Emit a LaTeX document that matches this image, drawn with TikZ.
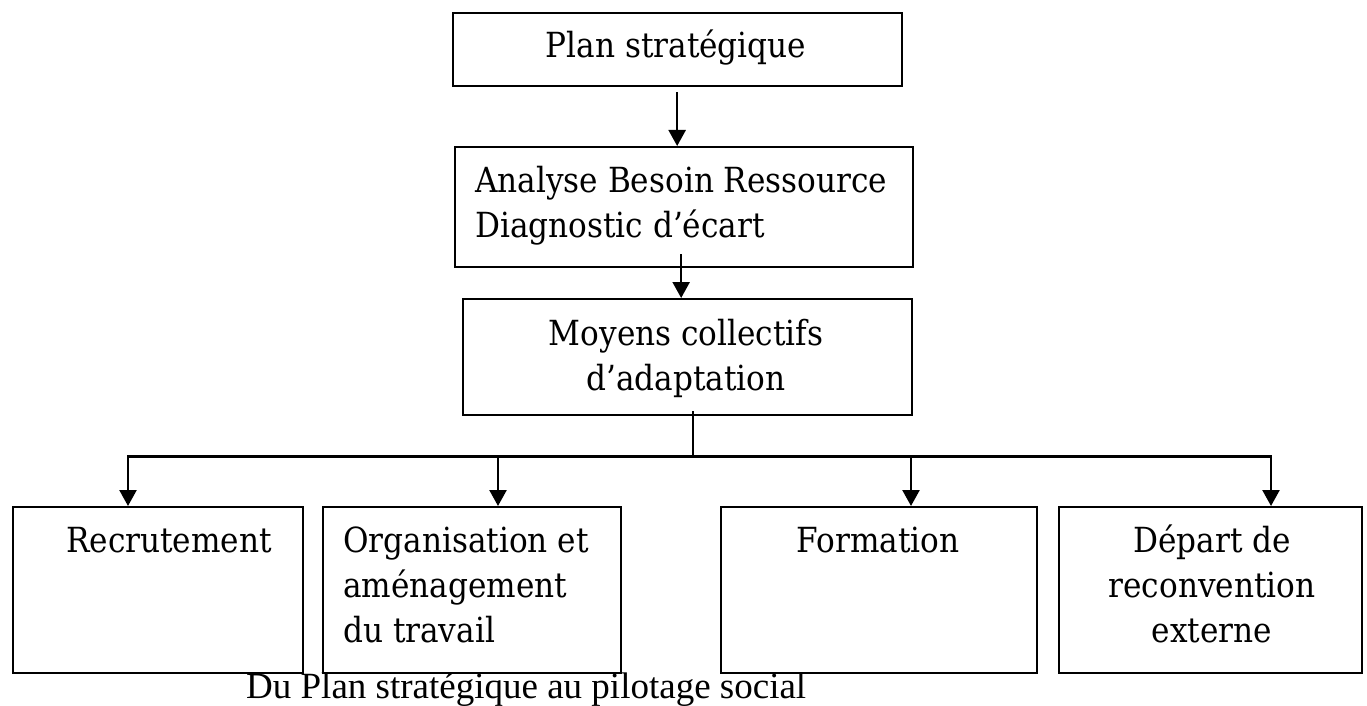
\documentclass[tikz,border=0pt]{standalone}
\usepackage{fontspec}
\setmainfont{Liberation Serif}
\newfontfamily\boxfont{DejaVu Serif Condensed}
\usetikzlibrary{arrows.meta,calc}
% multi-line text whose baseline is that of its first line
\newcommand\stacklines[2]{\begin{tabular}[t]{@{}#1@{}}#2\end{tabular}}
\begin{document}
\begin{tikzpicture}[x=1pt,y=-1pt,
  box/.style={draw, line width=2.3pt, inner sep=0pt, anchor=north west},
  txt/.style={inner sep=0pt, font=\boxfont\fontsize{34.6}{45}\selectfont},
  arr/.style={line width=2.4pt, -{Triangle[width=17pt,length=16pt]}},
  link/.style={line width=2.4pt}]
\useasboundingbox (0,0) rectangle (1367,706);

% boxes
\node[box, minimum width=449pt, minimum height=73pt]  (plan)    at (452,12)  {};
\node[box, minimum width=458pt, minimum height=120pt] (analyse) at (454,146) {};
\node[box, minimum width=449pt, minimum height=116pt] (moyens)  at (462,298) {};
\node[box, minimum width=290pt, minimum height=166pt] (recr)    at (12,506)  {};
\node[box, minimum width=298pt, minimum height=166pt] (orga)    at (322,506) {};
\node[box, minimum width=316pt, minimum height=166pt] (form)    at (720,506) {};
\node[box, minimum width=303pt, minimum height=166pt] (depart)  at (1058,506) {};

% box texts
\node[txt, anchor=base] (tplan) at (676,58) {Plan stratégique};
\node[txt, anchor=base west] (tanalyse) at (475,192)
  {\stacklines{l}{Analyse Besoin Ressource\\Diagnostic d’écart}};
\node[txt, anchor=base] (tmoyens) at (686,345)
  {\stacklines{c}{Moyens collectifs\\d’adaptation}};
\node[txt, anchor=base west] (trecr) at (66,552) {Recrutement};
\node[txt, anchor=base west] (torga) at (343,552)
  {\stacklines{l}{Organisation et\\aménagement\\du travail}};
\node[txt, anchor=base] (tform) at (878,552) {Formation};
\node[txt, anchor=base] (tdepart) at (1212,552)
  {\stacklines{c}{Départ de\\reconvention\\externe}};

% caption
\node[inner sep=0pt, anchor=base west, font=\fontsize{37}{44}\selectfont] (caption)
  at (246,698) {Du Plan stratégique au pilotage social};

% connectors
\coordinate (a1) at ($(plan.south)+(-0.5,5)$);
\draw[arr] (a1) -- (a1 |- analyse.north);
\coordinate (a2) at ($(analyse.south)+(-3,-14)$);
\draw[arr] (a2) -- (a2 |- moyens.north);

% distribution bus to the four bottom boxes
\coordinate (t0) at ($(moyens.south)+(5.5,-5)$);
\coordinate (bus) at ($(t0)+(0,45)$);
\coordinate (d1) at ($(recr.north west)+(116,0)$);
\coordinate (d2) at ($(orga.north west)+(176,0)$);
\coordinate (d3) at ($(form.north west)+(191,0)$);
\coordinate (d4) at ($(depart.north west)+(213,0)$);
\draw[link] (t0) -- (bus);
\draw[link, line cap=rect] (d1 |- bus) -- (d4 |- bus);
\foreach \d in {d1,d2,d3,d4}
  \draw[arr] (\d |- bus) -- (\d);
\end{tikzpicture}
\end{document}
